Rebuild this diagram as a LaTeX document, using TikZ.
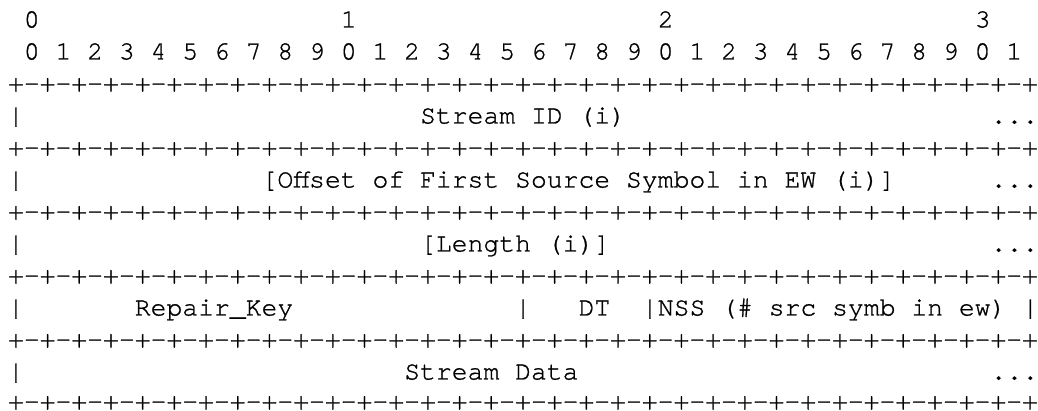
\documentclass[tikz,border=0pt]{standalone}
\usepackage{fontspec}
\newfontfamily\asciimono[FakeBold=1]{texgyrecursor-regular.otf}
\def\seprow{+-+-+-+-+-+-+-+-+-+-+-+-+-+-+-+-+-+-+-+-+-+-+-+-+-+-+-+-+-+-+-+-+}
\begin{document}
\begin{tikzpicture}[x=1pt,y=1pt,
  t/.style={font=\asciimono\fontsize{26.41}{30}\selectfont, anchor=base west, inner sep=0pt, outer sep=0pt, text=black}]
\useasboundingbox (0,0) rectangle (1038,411);
\fill[white] (0,0) rectangle (1038,411);
% row 0
\node[t] (h0) at ({8+15.85*1},383.5) {0};
\node[t] (h1) at ({8+15.85*21},383.5) {1};
\node[t] (h2) at ({8+15.85*41},383.5) {2};
\node[t] (h3) at ({8+15.85*61},383.5) {3};
% row 1
\node[t] (bits) at ({8+15.85*1},351.5) {0 1 2 3 4 5 6 7 8 9 0 1 2 3 4 5 6 7 8 9 0 1 2 3 4 5 6 7 8 9 0 1};
% separators
\node[t] (s1) at (8,319.5) {\seprow};
\node[t] (s2) at (8,255.5) {\seprow};
\node[t] (s3) at (8,191.5) {\seprow};
\node[t] (s4) at (8,127.5) {\seprow};
\node[t] (s5) at (8,63.5) {\seprow};
\node[t] (s6) at (8,1.5) {\seprow};
% row 3
\node[t] (l3a) at (8,287.5) {|};
\node[t] (l3b) at ({8+15.85*26},287.5) {Stream ID (i)};
\node[t] (l3c) at ({8+15.85*62},287.5) {...};
% row 5
\node[t] (l5a) at (8,223.5) {|};
\node[t] (l5b) at ({8+15.85*16},223.5) {[Offset of First Source Symbol in EW (i)]};
\node[t] (l5c) at ({8+15.85*62},223.5) {...};
% row 7
\node[t] (l7a) at (8,159.5) {|};
\node[t] (l7b) at ({8+15.85*26},159.5) {[Length (i)]};
\node[t] (l7c) at ({8+15.85*62},159.5) {...};
% row 9
\node[t] (l9a) at (8,95.5) {|};
\node[t] (l9b) at ({8+15.85*8},95.5) {Repair\_Key};
\node[t] (l9c) at ({8+15.85*32},95.5) {|};
\node[t] (l9d) at ({8+15.85*36},95.5) {DT};
\node[t] (l9e) at ({8+15.85*40},95.5) {|NSS (\# src symb in ew)};
\node[t] (l9f) at ({8+15.85*64},95.5) {|};
% row 11
\node[t] (l11a) at (8,31.5) {|};
\node[t] (l11b) at ({8+15.85*25},31.5) {Stream Data};
\node[t] (l11c) at ({8+15.85*62},31.5) {...};
\end{tikzpicture}
\end{document}
